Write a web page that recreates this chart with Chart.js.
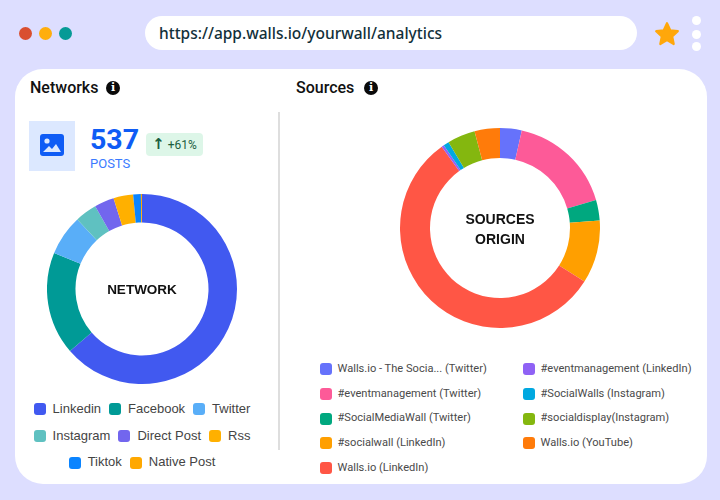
<!DOCTYPE html>
<html>
<head>
<meta charset="utf-8">
<script src="https://cdn.jsdelivr.net/npm/chart.js@4"></script>
<style>
  html, body { margin: 0; padding: 0; }
  body { width: 720px; height: 500px; background: #dddeff; position: relative; overflow: hidden; font-family: Roboto, sans-serif; }
  .abs { position: absolute; }
  .dot { position: absolute; width: 13px; height: 13px; border-radius: 50%; top: 27px; }
  .menu { position: absolute; left: 692px; width: 9px; height: 9px; border-radius: 50%; background: #fff; }
  #urlbar { left: 145px; top: 16px; width: 492px; height: 34px; border-radius: 17px; background: #fff; color: #12303a;
    font: 500 15.5px/34px "Noto Sans", sans-serif; text-indent: 14px; }
  #panel { left: 15px; top: 69px; width: 692px; height: 415px; border-radius: 28px; background: #fff; }
  .heading { position: absolute; top: 78px; font: 500 16px/20px Roboto, sans-serif; color: #111; }
  .info { position: absolute; top: 81px; width: 14px; height: 14px; border-radius: 50%; background: #0a0a0a; color: #fff;
    font: bold 11px/14px "DejaVu Serif", serif; text-align: center; }
  #divider { left: 278px; top: 112px; width: 2px; height: 338px; background: #dedede; }
  #iconbox { left: 29px; top: 121px; width: 46px; height: 50px; background: #dce8ff; }
  #count { left: 90px; top: 122px; font: bold 28.500px/36px Roboto, sans-serif; color: #0f5cf5; }
  #postsLabel { left: 90px; top: 156px; font: 13px/16px Roboto, sans-serif; color: #3b7bff; }
  #badge { left: 146px; top: 133px; width: 57px; height: 23px; border-radius: 4px; background: #ddf6e8; color: #1b5e3f;
    font: 12px/23px Roboto, sans-serif; text-align: center; }
  #badge b { font: bold 15px/23px "DejaVu Sans", sans-serif; }
  canvas { position: absolute; }
  .centerLabel { position: absolute; text-align: center; font: bold 13.500px/20px "Liberation Sans", sans-serif; color: #111; }
  #networkLegend { position: absolute; left: 26px; top: 396px; width: 232px; display: flex; flex-wrap: wrap; justify-content: center; column-gap: 8px;
    font: 13px/26.7px "Liberation Sans", sans-serif; color: #444; }
  #sourceLegend { position: absolute; left: 320px; top: 357px; height: 124px; width: 380px; display: flex; flex-direction: column; flex-wrap: wrap; align-content: flex-start;
    font: 11.100px/24.7px Roboto, sans-serif; color: #4a4a4a; }
  #sourceLegend .item { width: 203px; }
  #sourceLegend .box { margin-right: 5.500px; }
  .item { display: flex; align-items: center; white-space: nowrap; }
  .box { width: 12px; height: 12px; border-radius: 3px; margin-right: 7px; flex: none; }
</style>
</head>
<body>
<div class="dot" style="left:19px;background:#d94f30"></div>
<div class="dot" style="left:39px;background:#ffae0d"></div>
<div class="dot" style="left:59px;background:#069a96"></div>
<div class="abs" id="urlbar">https://app.walls.io/yourwall/analytics</div>
<svg class="abs" style="left:654px;top:21px" width="26" height="26" viewBox="0 0 24 24">
  <path fill="#ffa70a" stroke="#ffa70a" stroke-width="2" stroke-linejoin="round" d="M12 2l3 6.6 7 .8-5.200 4.800 1.400 7.100L12 17.700 5.800 21.300l1.400-7.100L2 9.400l7-.8z"/>
</svg>
<div class="menu" style="top:16px"></div>
<div class="menu" style="top:30px"></div>
<div class="menu" style="top:42px"></div>

<div class="abs" id="panel"></div>
<div class="heading" style="left:30px">Networks</div>
<div class="info" style="left:106px">i</div>
<div class="heading" style="left:296px">Sources</div>
<div class="info" style="left:364px">i</div>
<div class="abs" id="divider"></div>

<div class="abs" id="iconbox">
  <svg style="position:absolute;left:11px;top:13px" width="24" height="22" viewBox="0 0 24 22">
    <rect width="24" height="22" rx="3" fill="#0f5cf5"/>
    <circle cx="7" cy="7" r="2.600" fill="#dce8ff"/>
    <path d="M3 18l6-6 3 3 4-5 5 8z" fill="#dce8ff"/>
  </svg>
</div>
<div class="abs" id="count">537</div>
<div class="abs" id="postsLabel">POSTS</div>
<div class="abs" id="badge"><b>↑</b> +61%</div>

<canvas id="networkChart" width="190" height="190" style="left:47px;top:194px"></canvas>
<div class="centerLabel" style="left:47px;top:280px;width:190px">NETWORK</div>
<div id="networkLegend"></div>

<canvas id="sourceChart" width="200" height="200" style="left:400px;top:128px"></canvas>
<div class="centerLabel" style="left:400px;top:209px;width:200px;line-height:20px;font-size:14px">SOURCES<br>ORIGIN</div>
<div id="sourceLegend"></div>

<script>
// Networks donut
const networkLabels = ['Linkedin', 'Facebook', 'Twitter', 'Instagram', 'Direct Post', 'Rss', 'Tiktok', 'Native Post'];
const networkValues = [342, 94, 37, 20, 18, 18, 7, 1];
const networkColors = ['#4159f0', '#009a96', '#59aef8', '#5fc1c1', '#7266ee', '#ffb000', '#0a84ff', '#ffa800'];

// Sources donut
const sourceLabels = ['Walls.io - The Socia... (Twitter)', '#eventmanagement (Twitter)', '#SocialMediaWall (Twitter)', '#socialwall (LinkedIn)', 'Walls.io (LinkedIn)',
  '#eventmanagement (LinkedIn)', '#SocialWalls (Instagram)', '#socialdisplay(Instagram)', 'Walls.io (YouTube)'];
const sourceValues = [3.5, 17, 3.3, 10.2, 56.1, 0.4, 0.9, 4.5, 4.1];
const sourceColors = ['#6672fb', '#fd5a98', '#00a87f', '#ff9f00', '#ff5645', '#8f62f5', '#00a8e0', '#84b70f', '#ff7b0a'];

function drawDonut(id, labels, values, colors) {
  return new Chart(document.getElementById(id), {
    type: 'doughnut',
    data: {
      labels: labels,
      datasets: [{ data: values, backgroundColor: colors, borderWidth: 0 }]
    },
    options: {
      responsive: false,
      animation: false,
      cutout: '70%',
      plugins: { legend: { display: false }, tooltip: { enabled: false } }
    }
  });
}

function drawLegend(id, labels, colors) {
  const legend = document.getElementById(id);
  labels.forEach(function(label, i) {
    const item = document.createElement('div');
    item.className = 'item';
    const box = document.createElement('span');
    box.className = 'box';
    box.style.background = colors[i];
    const text = document.createElement('span');
    text.textContent = label;
    item.append(box, text);
    legend.append(item);
  });
}

drawDonut('networkChart', networkLabels, networkValues, networkColors);
drawDonut('sourceChart', sourceLabels, sourceValues, sourceColors);
drawLegend('networkLegend', networkLabels, networkColors);
drawLegend('sourceLegend', sourceLabels, sourceColors);
</script>
</body>
</html>
